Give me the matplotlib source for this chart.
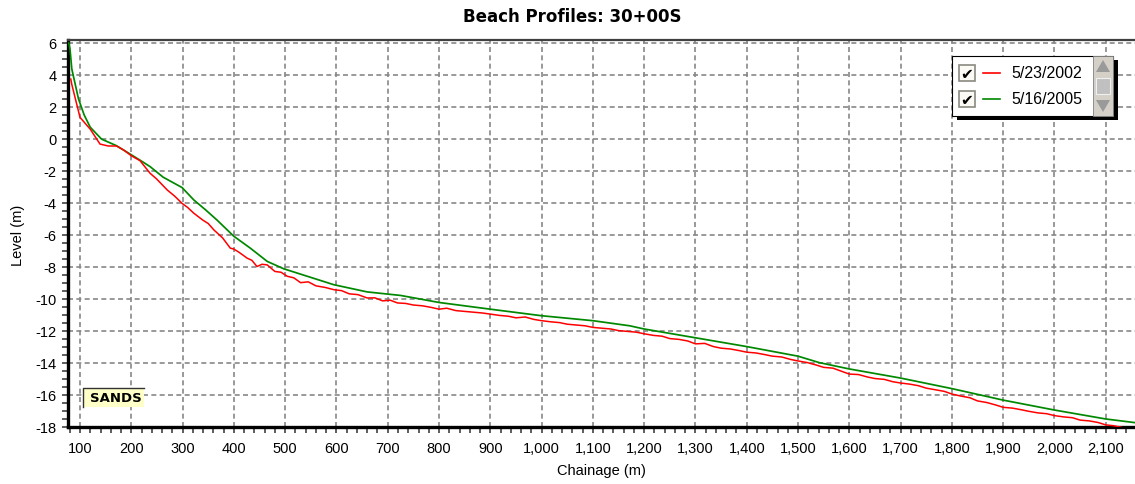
import matplotlib
matplotlib.use("Agg")
import matplotlib.pyplot as plt
from matplotlib.patches import Rectangle, Polygon
from matplotlib.lines import Line2D
from matplotlib.ticker import MultipleLocator, FuncFormatter

plt.rcParams['font.family'] = ['Liberation Sans', 'DejaVu Sans']
plt.rcParams['axes.unicode_minus'] = False

title = "Beach Profiles: 30+00S"
series_names = ["5/23/2002", "5/16/2005"]
series_colors = ["#ff0000", "#008800"]

# 5/23/2002 profile (chainage m, level m)
x_2002 = [82, 84, 100, 120, 139, 155, 171, 185, 200, 217, 237, 249, 270, 285, 299,
          310, 322, 340, 350, 361, 378, 393, 400, 410, 426, 435, 445, 455, 465, 480,
          492, 504, 517, 530, 545, 560, 578, 595, 610, 625, 642, 660, 675, 690, 705,
          719, 735, 750, 768, 785, 800, 815, 833, 850, 868, 885, 900, 918, 935, 950,
          968, 985, 1000, 1018, 1035, 1050, 1068, 1085, 1100, 1118, 1135, 1150, 1168, 1185,
          1200, 1218, 1235, 1250, 1268, 1285, 1300, 1318, 1335, 1350, 1368, 1385, 1400,
          1418, 1435, 1450, 1468, 1485, 1500, 1518, 1535, 1550, 1568, 1585, 1600, 1618,
          1635, 1650, 1668, 1685, 1700, 1718, 1735, 1750, 1768, 1785, 1800, 1818, 1835,
          1850, 1868, 1885, 1900, 1918, 1935, 1950, 1968, 1985, 2000, 2018, 2035, 2050,
          2068, 2085, 2100, 2115, 2130]
y_2002 = [3.74, 3.4, 1.34, 0.6, -0.33, -0.45, -0.45, -0.7, -1.06, -1.37, -2.17, -2.5, -3.2, -3.6, -4.04,
          -4.3, -4.66, -5.1, -5.3, -5.7, -6.2, -6.84, -6.9, -7.1, -7.47, -7.6, -7.99, -7.85, -7.89, -8.3,
          -8.35, -8.6, -8.7, -9.0, -8.95, -9.2, -9.3, -9.44, -9.5, -9.7, -9.75, -9.96, -9.95, -10.14, -10.1,
          -10.27, -10.3, -10.4, -10.45, -10.55, -10.66, -10.6, -10.75, -10.8, -10.85, -10.9, -10.97, -11.05, -11.1, -11.2,
          -11.15, -11.3, -11.38, -11.45, -11.5, -11.6, -11.65, -11.7, -11.8, -11.85, -11.9, -12.0, -12.05, -12.1,
          -12.2, -12.3, -12.35, -12.5, -12.55, -12.65, -12.83, -12.8, -13.0, -13.1, -13.15, -13.25, -13.35,
          -13.4, -13.5, -13.6, -13.65, -13.8, -13.9, -14.0, -14.15, -14.3, -14.35, -14.55, -14.72, -14.75,
          -14.9, -15.0, -15.05, -15.2, -15.28, -15.35, -15.45, -15.6, -15.7, -15.8, -15.97, -16.1, -16.2,
          -16.4, -16.5, -16.65, -16.8, -16.85, -16.95, -17.05, -17.15, -17.2, -17.32, -17.4, -17.45, -17.6,
          -17.65, -17.75, -17.9, -17.95, -18.05]

# 5/16/2005 profile (chainage m, level m)
x_2005 = [78, 80.5, 84, 97, 108, 120, 142, 171, 203, 223, 237, 262, 299, 322, 345, 367,
          400, 432, 465, 497, 543, 595, 660, 725, 800, 900, 1000, 1100, 1172, 1200, 1300,
          1400, 1500, 1541, 1600, 1700, 1800, 1900, 2000, 2100, 2160]
y_2005 = [6.0, 5.6, 4.37, 2.5, 1.5, 0.72, -0.02, -0.43, -1.06, -1.46, -1.75, -2.4, -3.05, -3.83, -4.45, -5.08,
          -6.1, -6.84, -7.67, -8.13, -8.6, -9.13, -9.58, -9.8, -10.24, -10.66, -11.07, -11.38, -11.7, -11.9, -12.45,
          -13.0, -13.6, -14.0, -14.4, -14.97, -15.63, -16.35, -16.97, -17.53, -17.77]

W, H = 1135, 485


def px(x, y):
    return x / W, 1 - y / H


fig = plt.figure(figsize=(W / 100, H / 100), dpi=100)
ax = fig.add_axes([67.7 / W, 1 - 428.3 / H, 1 - 67.7 / W, (428.3 - 40.7) / H])

ax.plot(x_2005, y_2005, color=series_colors[1], lw=1.25, zorder=3)
ax.plot(x_2002, y_2002, color=series_colors[0], lw=1.1, zorder=4)

ax.set_xlim(76, 2157)
ax.set_ylim(-18.05, 6.2)
ax.xaxis.set_major_locator(MultipleLocator(100))
ax.xaxis.set_minor_locator(MultipleLocator(20))
ax.yaxis.set_major_locator(MultipleLocator(2))
ax.yaxis.set_minor_locator(MultipleLocator(0.5))
ax.xaxis.set_major_formatter(FuncFormatter(lambda v, p: f"{v:,.0f}"))
ax.yaxis.set_major_formatter(FuncFormatter(lambda v, p: f"{v:.0f}"))
ax.tick_params(which='both', direction='out', length=4, width=1.1, color='#333333',
               labelsize=10.5, pad=4)
ax.tick_params(axis='x', pad=6)
ax.grid(True, which='major', color='#888888', lw=1.2, linestyle=(0, (3, 2)))

ax.spines['left'].set_linewidth(2.4)
ax.spines['bottom'].set_linewidth(2.4)
ax.spines['left'].set_color('black')
ax.spines['bottom'].set_color('black')
ax.spines['top'].set_linewidth(1.6)
ax.spines['top'].set_color('#404040')
ax.spines['right'].set_visible(False)

fig.text(*px(572, 17), title, ha='center', va='center', fontsize=12, fontweight='bold',
         family='DejaVu Sans')
fig.text(*px(601, 471), "Chainage (m)", ha='center', va='center', fontsize=10.5)
fig.text(*px(18, 235), "Level (m)", ha='center', va='center', fontsize=10.5, rotation=90)

# SANDS label
x0, y0 = px(83, 408)
x1, y1 = px(144, 389)
fig.add_artist(Rectangle((x0, y0), x1 - x0, y1 - y0, facecolor='#ffffc8', edgecolor='none'))
fig.add_artist(Line2D([x0, x0, x1], [y0, y1, y1], color='#333333', lw=1.0))
fig.text((x0 + x1) / 2 + 0.002, (y0 + y1) / 2, "SANDS", ha='center', va='center',
         fontsize=9.5, fontweight='bold', family='DejaVu Sans')

# legend box with shadow and scroll bar
lx0, ly0 = px(952, 117)
lx1, ly1 = px(1113, 57)
sx, sy = 5 / W, 4 / H
fig.add_artist(Rectangle((lx0 + sx, ly0 - sy), lx1 - lx0, ly1 - ly0, facecolor='black',
                         edgecolor='none', zorder=10))
fig.add_artist(Rectangle((lx0, ly0), lx1 - lx0, ly1 - ly0, facecolor='white',
                         edgecolor='black', lw=0.8, zorder=11))
bx0, _ = px(1093, 0)
fig.add_artist(Rectangle((bx0, ly0), lx1 - bx0, ly1 - ly0, facecolor='#d4d0c8',
                         edgecolor='#808080', lw=0.6, zorder=12))
tx0, ty0 = px(1096, 95)
tx1, ty1 = px(1110, 79)
fig.add_artist(Rectangle((tx0, ty0), tx1 - tx0, ty1 - ty0, facecolor='#c0c0c0',
                         edgecolor='#f0f0f0', lw=0.8, zorder=13))
fig.add_artist(Polygon([px(1096, 73), px(1110, 73), px(1103, 61)], closed=True,
                       facecolor='#9a9a9a', edgecolor='none', zorder=13))
fig.add_artist(Polygon([px(1096, 101), px(1110, 101), px(1103, 113)], closed=True,
                       facecolor='#9a9a9a', edgecolor='none', zorder=13))

for i, (name, col) in enumerate(zip(series_names, series_colors)):
    ry = 74 + i * 26
    cx0, cy0 = px(959, ry + 8)
    cx1, cy1 = px(975, ry - 8)
    fig.add_artist(Rectangle((cx0, cy0), cx1 - cx0, cy1 - cy0, facecolor='#fbfaf5',
                             edgecolor='#8a8a80', lw=1.2, zorder=12))
    fig.text(*px(967, ry + 1), "\u2714", family='DejaVu Sans', ha='center', va='center',
             fontsize=11, fontweight='bold', color='black', zorder=13)
    lxa, lya = px(983, ry)
    lxb, _ = px(1000, ry)
    fig.add_artist(Line2D([lxa, lxb], [lya, lya], color=col, lw=1.2, zorder=12))
    fig.text(*px(1011, ry), name, ha='left', va='center', fontsize=11.5, zorder=13)

fig.savefig("out.png", dpi=100)
